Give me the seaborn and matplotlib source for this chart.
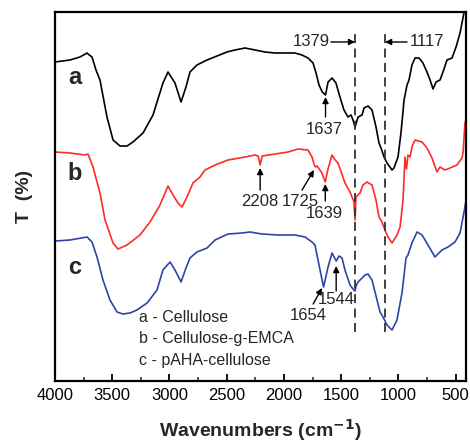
import numpy as np
import pandas as pd
import matplotlib
matplotlib.use("Agg")
import matplotlib.pyplot as plt
import seaborn as sns

# FTIR spectra (wavenumber in cm^-1, transmittance in arbitrary offset units)
wn_a = [4000, 3869, 3782, 3720, 3712, 3677, 3642, 3607, 3546, 3493, 3432, 3371, 3319,
        3231, 3144, 3057, 3013, 2952, 2899, 2856, 2821, 2760, 2672, 2585, 2498, 2428,
        2340, 2253, 2166, 2078, 1991, 1904, 1843, 1790, 1746, 1720, 1694, 1665, 1637,
        1615, 1580, 1546, 1511, 1476, 1441, 1414, 1397, 1379, 1353, 1318, 1301, 1266,
        1231, 1196, 1170, 1152, 1126, 1100, 1056, 1039, 1004, 978, 951, 925, 908, 882,
        855, 820, 786, 751, 724, 698, 672, 637, 611, 576, 532, 497, 462, 428, 410]
t_a = [319, 321, 324, 328, 327, 324, 311, 301, 264, 241, 235, 235, 239,
       248, 266, 298, 309, 298, 279, 294, 309, 316, 321, 325, 329, 331,
       333, 331, 329, 328, 328, 328, 326, 323, 318, 308, 296, 289, 286,
       299, 303, 298, 284, 271, 264, 266, 261, 254, 264, 266, 273, 275,
       271, 254, 238, 233, 224, 218, 211, 213, 224, 248, 281, 296, 301, 316,
       323, 323, 318, 309, 301, 292, 299, 301, 309, 321, 323, 334, 348, 368, 373]

wn_b = [4000, 3869, 3738, 3712, 3668, 3607, 3563, 3493, 3450, 3371, 3258, 3170, 3083,
        3013, 2969, 2926, 2891, 2847, 2795, 2733, 2690, 2602, 2489, 2340, 2253, 2225,
        2208, 2190, 2078, 1965, 1877, 1790, 1755, 1735, 1725, 1710, 1668, 1650, 1639,
        1620, 1598, 1580, 1560, 1528, 1467, 1423, 1406, 1390, 1379, 1371, 1336, 1310,
        1275, 1231, 1196, 1170, 1144, 1118, 1091, 1056, 1013, 986, 960, 943, 930, 917,
        899, 880, 855, 794, 751, 707, 663, 637, 593, 550, 489, 445, 436, 419, 410]
t_b = [229, 228, 226, 227, 214, 188, 161, 138, 132, 136, 146, 159, 176,
       195, 186, 178, 174, 184, 198, 204, 211, 216, 221, 224, 226, 225,
       216, 225, 227, 229, 232, 231, 224, 216, 214, 215, 208, 202, 199,
       210, 219, 226, 222, 218, 198, 189, 184, 180, 161, 184, 188, 196,
       199, 196, 181, 164, 159, 151, 144, 138, 146, 154, 181, 224, 212, 226,
       224, 235, 241, 239, 233, 223, 209, 214, 211, 213, 216, 223, 228, 258, 261]

wn_c = [4000, 3869, 3720, 3677, 3633, 3581, 3520, 3458, 3406, 3345, 3284, 3196, 3109,
        3057, 2995, 2952, 2899, 2856, 2821, 2760, 2672, 2602, 2489, 2367, 2297, 2192,
        2052, 1904, 1816, 1755, 1729, 1685, 1654, 1615, 1580, 1544, 1519, 1493, 1467,
        1423, 1397, 1379, 1371, 1353, 1318, 1292, 1266, 1231, 1187, 1161, 1135, 1100,
        1056, 1013, 969, 934, 917, 882, 838, 794, 742, 681, 620, 567, 506, 462, 419, 410]
t_c = [140, 141, 144, 139, 124, 101, 81, 69, 67, 68, 71, 78, 91,
       111, 119, 111, 99, 113, 123, 129, 133, 141, 147, 148, 149, 147,
       146, 146, 144, 139, 136, 111, 94, 114, 128, 120, 125, 123, 111,
       96, 92, 90, 95, 99, 103, 106, 107, 101, 81, 69, 64, 56,
       51, 61, 88, 123, 126, 138, 149, 146, 136, 124, 131, 134, 139, 148, 174, 181]

series_names = ["a", "b", "c"]
series_colors = ["#000000", "#ff2a2a", "#2e45a8"]
legend_lines = ["a - Cellulose", "b - Cellulose-g-EMCA", "c - pAHA-cellulose"]
marker_lines = [1379, 1117]
x_ticks = [4000, 3500, 3000, 2500, 2000, 1500, 1000, 500]

df = pd.concat([
    pd.DataFrame({"wn": wn_a, "T": t_a, "s": "a"}),
    pd.DataFrame({"wn": wn_b, "T": t_b, "s": "b"}),
    pd.DataFrame({"wn": wn_c, "T": t_c, "s": "c"}),
], ignore_index=True)

sns.set_theme(style="ticks")
plt.rcParams["font.family"] = ["Liberation Sans", "DejaVu Sans"]

fig = plt.figure(figsize=(4.70, 4.44), dpi=100)
ax = fig.add_axes([55 / 470, 63 / 444, 411 / 470, 369 / 444])

sns.lineplot(data=df, x="wn", y="T", hue="s", hue_order=series_names,
             palette=series_colors, estimator=None, sort=True, lw=1.2,
             legend=False, ax=ax)

ax.set_xlim(4000, 410)
ax.set_ylim(0, 369)
ax.set_yticks([])
ax.set_xticks(x_ticks)
ax.set_xticklabels([str(v) for v in x_ticks], fontsize=12)
ax.set_xticks(np.arange(3750, 400, -500), minor=True)
ax.tick_params(axis="x", which="major", direction="in", length=5, width=1.3,
               top=False, pad=5, colors="black")
ax.tick_params(axis="x", which="minor", direction="in", length=3, width=1.1, top=False)
for sp in ax.spines.values():
    sp.set_linewidth(1.6)
    sp.set_color("black")

ax.set_xlabel("Wavenumbers (cm$^{\\mathbf{-1}}$)", fontsize=14, fontweight="bold", labelpad=10)
ax.set_ylabel("T  (%)", fontsize=14, fontweight="bold", labelpad=16)

# dashed reference lines
for m in marker_lines:
    ax.plot([m, m], [49, 351], ls=(0, (5, 3)), color="#333333", lw=1.3)

# series letters
for name, y in zip(series_names, [304, 208, 114]):
    ax.text(3825, y, name, fontsize=17, fontweight="bold", ha="center", va="center")

# legend text
for txt, y in zip(legend_lines, [64, 43, 21]):
    ax.text(3266, y, txt, fontsize=11.5, ha="left", va="center")

arrow = dict(arrowstyle="-|>", color="black", lw=1.0, mutation_scale=9, shrinkA=0, shrinkB=0)

# band labels
ax.annotate("", xy=(1379, 339), xytext=(1590, 339), arrowprops=arrow)
ax.text(1600, 339, "1379", fontsize=12, ha="right", va="center")
ax.annotate("", xy=(1117, 339), xytext=(925, 339), arrowprops=arrow)
ax.text(905, 339, "1117", fontsize=12, ha="left", va="center")

ax.annotate("", xy=(1637, 284), xytext=(1637, 264), arrowprops=arrow)
ax.text(1645, 252, "1637", fontsize=12, ha="center", va="center")

ax.annotate("", xy=(2208, 213), xytext=(2208, 191), arrowprops=arrow)
ax.text(2208, 180, "2208", fontsize=12, ha="center", va="center")
ax.annotate("", xy=(1738, 211), xytext=(1842, 191), arrowprops=arrow)
ax.text(1860, 180, "1725", fontsize=12, ha="center", va="center")
ax.annotate("", xy=(1639, 197), xytext=(1639, 180), arrowprops=arrow)
ax.text(1645, 168, "1639", fontsize=12, ha="center", va="center")

ax.annotate("", xy=(1668, 93), xytext=(1745, 77), arrowprops=arrow)
ax.text(1785, 65, "1654", fontsize=12, ha="center", va="center")
ax.annotate("", xy=(1544, 115), xytext=(1544, 90), arrowprops=arrow)
ax.text(1545, 81, "1544", fontsize=12, ha="center", va="center")

fig.savefig("out.png", dpi=100)
